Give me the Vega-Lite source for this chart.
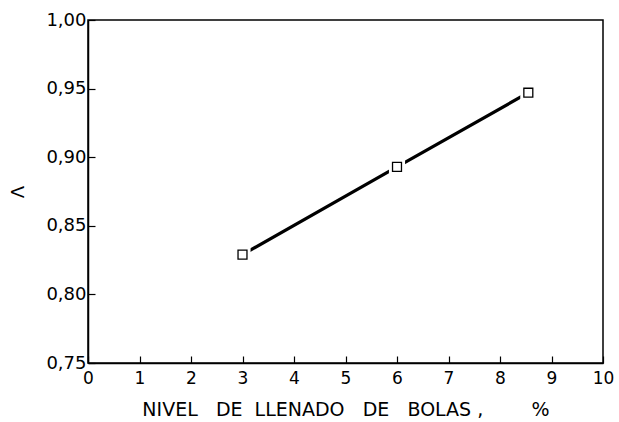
{
  "$schema": "https://vega.github.io/schema/vega-lite/v6.json",
  "width": 515,
  "height": 343,
  "autosize": {"type": "none"},
  "padding": {"left": 88, "top": 20, "right": 16, "bottom": 59},
  "background": "white",
  "config": {
    "view": {"stroke": "black", "strokeWidth": 1.5},
    "font": "DejaVu Sans",
    "axis": {
      "domainColor": "black",
      "domainWidth": 1.5,
      "tickColor": "black",
      "tickWidth": 1.2,
      "tickSize": -7,
      "grid": false,
      "labelColor": "black",
      "labelFont": "DejaVu Sans",
      "labelFontSize": 17,
      "titleColor": "black",
      "titleFont": "DejaVu Sans",
      "titleFontWeight": "normal",
      "titleFontSize": 16
    }
  },
  "data": {
    "values": [
      {"x": 3.0, "y": 0.829},
      {"x": 6.0, "y": 0.893},
      {"x": 8.55, "y": 0.947}
    ]
  },
  "layer": [
    {
      "mark": {"type": "line", "color": "black", "strokeWidth": 3.2},
      "encoding": {
        "x": {
          "field": "x",
          "type": "quantitative",
          "scale": {"domain": [0, 10], "nice": false, "zero": false},
          "axis": {
            "values": [0, 1, 2, 3, 4, 5, 6, 7, 8, 9, 10],
            "labelPadding": 14,
            "labelFlush": false,
            "title": "NIVEL\u00a0\u00a0\u00a0DE\u00a0\u00a0LLENADO\u00a0\u00a0\u00a0DE\u00a0\u00a0\u00a0BOLAS\u00a0,\u00a0\u00a0\u00a0\u00a0\u00a0\u00a0\u00a0\u00a0%",
            "titleFontSize": 19,
            "titlePadding": 14
          }
        },
        "y": {
          "field": "y",
          "type": "quantitative",
          "scale": {"domain": [0.75, 1.0], "nice": false, "zero": false},
          "axis": {
            "values": [0.75, 0.8, 0.85, 0.9, 0.95, 1.0],
            "labelExpr": "replace(format(datum.value, '.2f'), '.', ',')",
            "labelPadding": 9,
            "labelFontSize": 18,
            "labelFlush": false,
            "title": "Λ",
            "titleFontSize": 18,
            "titlePadding": 18
          }
        }
      }
    },
    {
      "mark": {"type": "point", "shape": "square", "filled": true, "color": "white", "size": 260, "opacity": 1},
      "encoding": {
        "x": {"field": "x", "type": "quantitative"},
        "y": {"field": "y", "type": "quantitative"}
      }
    },
    {
      "mark": {"type": "point", "shape": "square", "fill": "white", "stroke": "black", "strokeWidth": 1.3, "size": 80, "opacity": 1},
      "encoding": {
        "x": {"field": "x", "type": "quantitative"},
        "y": {"field": "y", "type": "quantitative"}
      }
    }
  ]
}
